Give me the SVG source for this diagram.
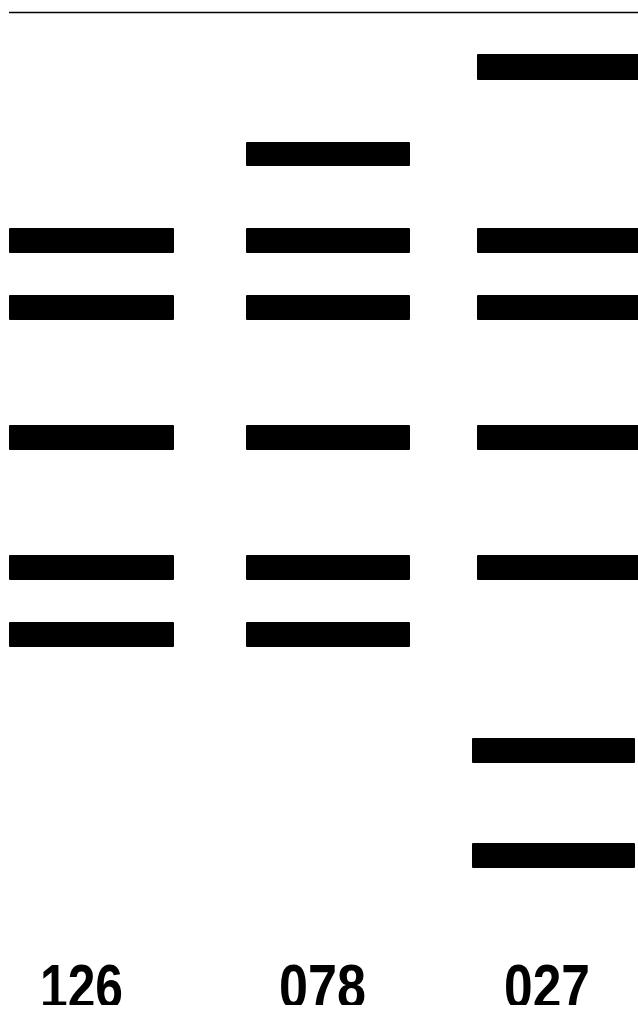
<svg xmlns="http://www.w3.org/2000/svg" width="638" height="1026" viewBox="0 0 638 1026">
<style>
.bar{fill:#000}
.lbl{font-family:"Liberation Sans",Arial,sans-serif;font-weight:bold;font-size:63px;fill:#000}
</style>
<defs>
<clipPath id="cut"><rect x="0" y="0" width="638" height="1005"/></clipPath>
</defs>
<rect width="638" height="1026" fill="#fff"/>
<line x1="9" y1="12.5" x2="638" y2="12.5" stroke="#000" stroke-width="1.5"/>
<g id="lane126">
<rect class="bar" x="9" y="228" width="165" height="25" rx="1"/>
<rect class="bar" x="9" y="295" width="165" height="25" rx="1"/>
<rect class="bar" x="9" y="425" width="165" height="25" rx="1"/>
<rect class="bar" x="9" y="555" width="165" height="25" rx="1"/>
<rect class="bar" x="9" y="622" width="165" height="25" rx="1"/>
<text class="lbl" x="40" y="1008" textLength="83" lengthAdjust="spacingAndGlyphs" clip-path="url(#cut)">126</text>
</g>
<g id="lane078">
<rect class="bar" x="246" y="142" width="164" height="24" rx="1"/>
<rect class="bar" x="246" y="228" width="164" height="25" rx="1"/>
<rect class="bar" x="246" y="295" width="164" height="25" rx="1"/>
<rect class="bar" x="246" y="425" width="164" height="25" rx="1"/>
<rect class="bar" x="246" y="555" width="164" height="25" rx="1"/>
<rect class="bar" x="246" y="622" width="164" height="25" rx="1"/>
<text class="lbl" x="279" y="1008" textLength="87" lengthAdjust="spacingAndGlyphs" clip-path="url(#cut)">078</text>
</g>
<g id="lane027">
<rect class="bar" x="477" y="54" width="170" height="26" rx="1"/>
<rect class="bar" x="477" y="228" width="170" height="25" rx="1"/>
<rect class="bar" x="477" y="295" width="170" height="25" rx="1"/>
<rect class="bar" x="477" y="425" width="170" height="25" rx="1"/>
<rect class="bar" x="477" y="555" width="170" height="25" rx="1"/>
<rect class="bar" x="472" y="738" width="163" height="25" rx="1"/>
<rect class="bar" x="472" y="843" width="163" height="25" rx="1"/>
<text class="lbl" x="504" y="1008" textLength="86" lengthAdjust="spacingAndGlyphs" clip-path="url(#cut)">027</text>
</g>
</svg>
